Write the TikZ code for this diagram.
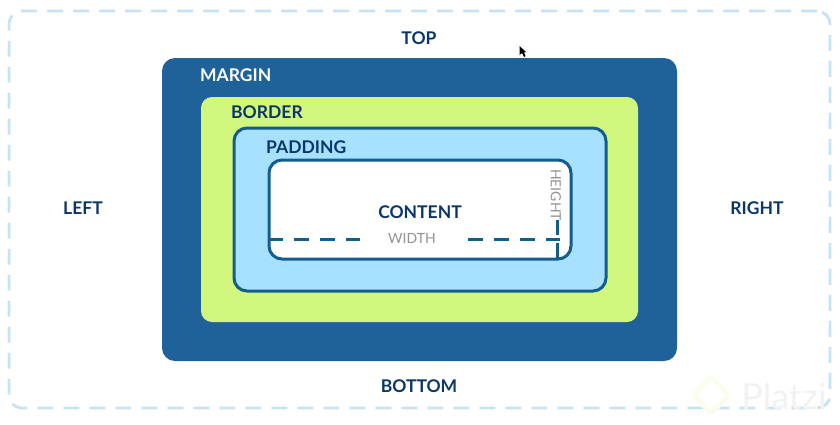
\documentclass[tikz,border=0pt]{standalone}
\usepackage{fontspec}
\setmainfont{Lato}
\usetikzlibrary{positioning,calc}
\definecolor{marginblue}{HTML}{1F6299}
\definecolor{bordergreen}{HTML}{D2F77F}
\definecolor{paddingblue}{HTML}{A8E0FF}
\definecolor{edgeblue}{HTML}{125C8E}
\definecolor{inkblue}{HTML}{0A3668}
\definecolor{guideblue}{HTML}{C6E3F4}
\tikzset{
	layerbox/.style={rectangle,inner sep=0pt,outer sep=0pt},
	sidelabel/.style={inner sep=0pt,text=inkblue,font=\fontsize{17.5}{17.5}\selectfont\bfseries},
	measurelabel/.style={inner sep=0pt,text=gray!85,font=\fontsize{14}{14}\selectfont},
	measureline/.style={draw=edgeblue,line width=3pt,dash pattern=on 15pt off 11pt}
}
\begin{document}
\begin{tikzpicture}[x=1pt,y=-1pt]
	\useasboundingbox (0,0) rectangle (840,424);
	\node[layerbox,minimum width=821pt,minimum height=397pt,rounded corners=13pt,draw=guideblue,line width=2.8pt,dash pattern=on 16pt off 10pt] (outer) at (419.5,209.5) {};
	\node[layerbox,minimum width=515pt,minimum height=303pt,rounded corners=13pt,fill=marginblue] (margin) at (419.5,209.5) {};
	\node[layerbox,minimum width=437pt,minimum height=225pt,rounded corners=11pt,fill=bordergreen] (border) at (419.5,209.5) {};
	\node[layerbox,minimum width=372pt,minimum height=163pt,rounded corners=13pt,fill=paddingblue,draw=edgeblue,line width=3pt] (padding) at (420,209.5) {};
	\node[layerbox,minimum width=302pt,minimum height=99pt,rounded corners=13pt,fill=white,draw=edgeblue,line width=3pt] (content) at (420,209.5) {};
	%
	\node[sidelabel] (top) at (419,38) {TOP};
	\node[sidelabel] (left) at (83,208) {LEFT};
	\node[sidelabel] (right) at (757,208) {RIGHT};
	\node[sidelabel] (bottom) at (419,386) {BOTTOM};
	%
	\node[sidelabel,text=white,anchor=west] (marginlabel) at ($(margin.north west)+(38,17)$) {MARGIN};
	\node[sidelabel,anchor=west] (borderlabel) at ($(border.north west)+(30,15)$) {BORDER};
	\node[sidelabel,anchor=west] (paddinglabel) at ($(padding.north west)+(32,19)$) {PADDING};
	\node[sidelabel] (contentlabel) at (420,212) {CONTENT};
	%
	\node[measurelabel] (widthlabel) at (412,238) {WIDTH};
	\node[measurelabel,rotate=-90] (heightlabel) at (556,195) {HEIGHT};
	%
	\coordinate (w1) at (268,239.5);
	\coordinate (w2) at (360,239.5);
	\coordinate (w3) at (468,239.5);
	\coordinate (w4) at (560,239.5);
	\coordinate (h1) at (557,220);
	\coordinate (h2) at (557,258);
	\draw[measureline] (w1) -- (w2);
	\draw[measureline] (w3) -- (w4);
	\draw[measureline,dash pattern=on 15pt off 8pt] (h1) -- (h2);
	%
	\node[inner sep=0pt,text=black!5,font=\fontsize{36}{36}\selectfont] (platzi) at (784,396) {Platzi};
	\node[layerbox,minimum size=26pt,draw=bordergreen!16,line width=5pt,rotate=45,rounded corners=3pt] (logo) at (711,395) {};
	\fill[black] (519.5,46) -- (519.5,55) -- (522,53) -- (524,57) -- (525.5,56) -- (524,52.5) -- (526,52) -- cycle;
\end{tikzpicture}
\end{document}
